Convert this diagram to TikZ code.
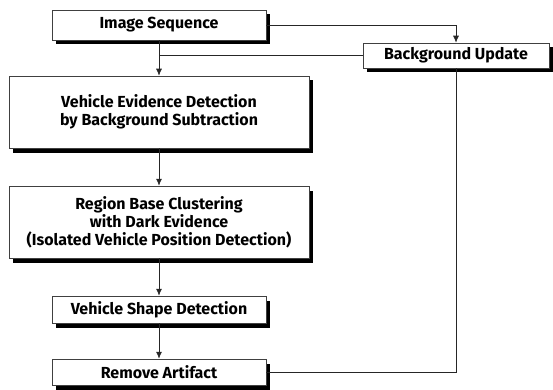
\documentclass[tikz,border=0pt]{standalone}
\usepackage{fontspec}
\setmainfont{Fira Sans}
\usetikzlibrary{shadows,arrows.meta}
\begin{document}
\begin{tikzpicture}[x=1pt,y=-1pt,
  box/.style={draw=black!75, line width=0.5pt, fill=white, align=center,
    inner sep=0pt, font=\fontsize{16}{18}\selectfont\bfseries,
    general shadow={fill=black, shadow xshift=4pt, shadow yshift=-4.5pt}},
  conn/.style={draw=black!85, line width=0.8pt},
  arr/.style={conn, -{Latex[length=7pt,width=6pt]}}]
\useasboundingbox (0,0) rectangle (553,390);
\node[box, minimum width=214pt, minimum height=30pt] (IS) at (159,25) {Image Sequence};
\node[box, minimum width=186pt, minimum height=25pt] (BG) at (456,55.5) {Background Update};
\node[box, minimum width=300pt, minimum height=72pt] (VED) at (159,112) {Vehicle Evidence Detection\\by Background Subtraction};
\node[box, minimum width=300pt, minimum height=72pt] (RB) at (159,222) {Region Base Clustering\\with Dark Evidence\\(Isolated Vehicle Position Detection)};
\node[box, minimum width=214pt, minimum height=27pt] (VSD) at (159,309.5) {Vehicle Shape Detection};
\node[box, minimum width=214pt, minimum height=26pt] (RA) at (159,372) {Remove Artifact};
\coordinate (j) at (159,55.5);
\draw[arr] (IS.south) -- (VED.north);
\draw[arr] (IS.east) -| (BG.north);
\draw[conn] (BG.west) -- (j);
\draw[arr] (VED.south) -- (RB.north);
\draw[arr] (RB.south) -- (VSD.north);
\draw[arr] (VSD.south) -- (RA.north);
\draw[conn] (BG.south) |- (RA.east);
\end{tikzpicture}
\end{document}
